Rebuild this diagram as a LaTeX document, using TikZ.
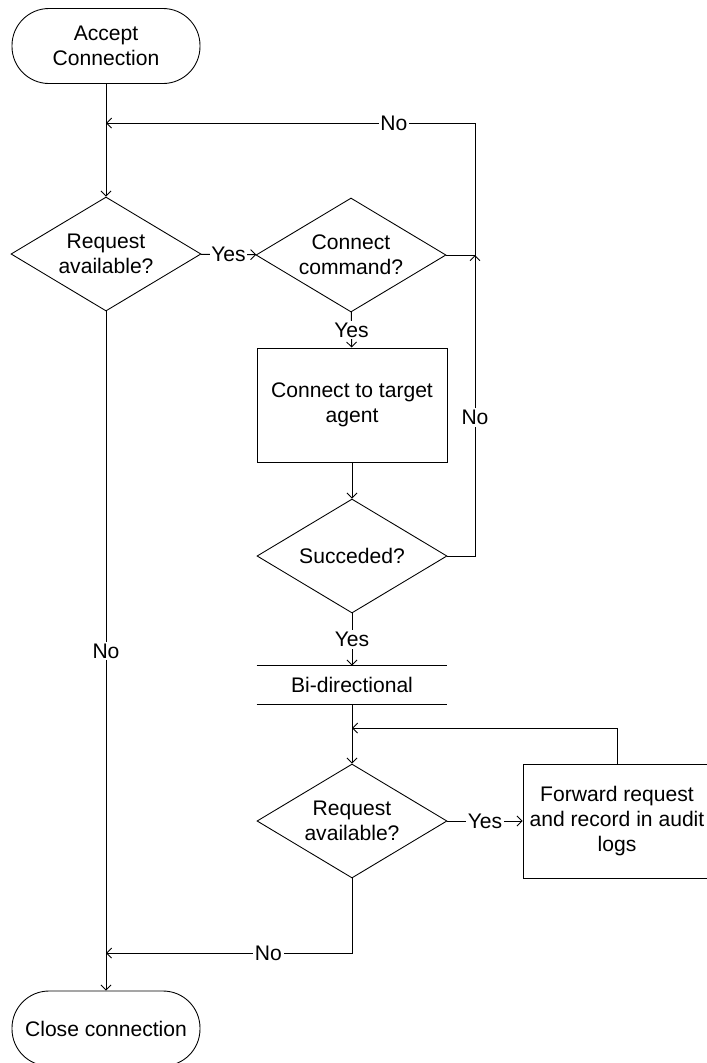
\documentclass[tikz,border=0pt]{standalone}
\usepackage{fontspec}
\setmainfont{Liberation Sans}
\usetikzlibrary{shapes.geometric,arrows.meta}

\begin{document}
\begin{tikzpicture}[
    font=\fontsize{12}{14.4}\selectfont,
    line width=0.5pt,
    terminal/.style={draw, rectangle, rounded corners=0.74cm, minimum width=3.76cm, minimum height=1.5cm, align=center},
    decision/.style={draw, diamond, aspect=1.67, inner sep=0pt, minimum width=3.8cm, minimum height=2.28cm, align=center},
    process/.style={draw, rectangle, minimum width=3.8cm, minimum height=2.28cm, align=center},
    lab/.style={fill=white, inner sep=1pt},
    flow/.style={-{Straight Barb[length=0.1cm,width=0.2cm]}},
]
\clip (0,0) rectangle (14.14,-21.26);

% Formen
\node[terminal] (accept) at (2.12,-0.92) {Accept\\Connection};
\node[decision] (req1) at (2.12,-5.08) {Request\\available?};
\node[decision] (conn) at (7.02,-5.1) {Connect\\command?};
\node[process] (agent) at (7.04,-8.1) {Connect to target\\agent};
\node[decision] (succ) at (7.04,-11.12) {Succeded?};
\node[minimum width=3.8cm, minimum height=0.76cm] (bidir) at (7.04,-13.7) {Bi-directional};
\draw (bidir.north west) -- (bidir.north east);
\draw (bidir.south west) -- (bidir.south east);
\node[decision] (req2) at (7.04,-16.42) {Request\\available?};
\node[process, minimum width=3.76cm] (fwd) at (12.34,-16.42) {Forward request\\and record in audit\\logs};
\node[terminal] (close) at (2.12,-20.57) {Close connection};

% Knotenpunkte
\coordinate (jtop) at (2.12,-2.46);
\coordinate (jright) at (9.5,-5.1);
\coordinate (jmid) at (7.04,-14.56);
\coordinate (jbot) at (2.12,-19.06);

% Verbindungen
\draw[flow] (accept) -- (req1);
\draw[flow] (req1) -- node[lab] {Yes} (conn);
\draw[flow] (conn.east) -- (jright) |- node[lab, pos=0.61] {No} (jtop);
\draw[flow] (conn) -- node[lab] {Yes} (agent);
\draw[flow] (agent) -- (succ);
\draw[flow] (succ.east) -| node[lab, pos=0.73] {No} (jright);
\draw[flow] (succ) -- node[lab] {Yes} (bidir);
\draw[flow] (bidir) -- (req2);
\draw[flow] (fwd.north) |- (jmid);
\draw[flow] (req2) -- node[lab] {Yes} (fwd);
\draw[flow] (req2.south) |- node[lab, pos=0.67] {No} (jbot);
\draw[flow] (req1) -- node[lab] {No} (close);
\end{tikzpicture}
\end{document}
